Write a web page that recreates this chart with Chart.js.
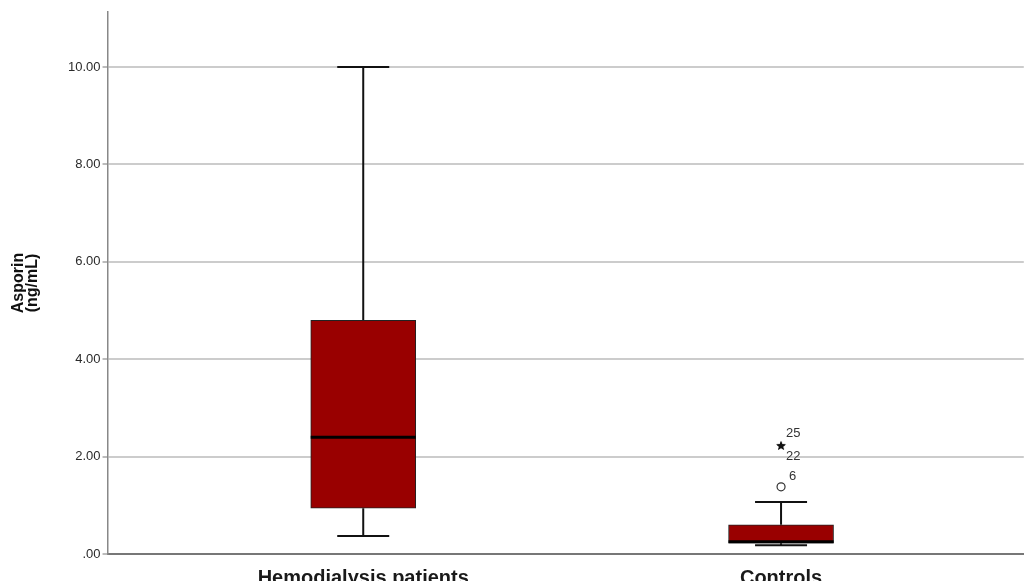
<!DOCTYPE html>
<html>
<head>
<meta charset="utf-8">
<script src="https://cdn.jsdelivr.net/npm/chart.js@4"></script>
<style>
  html, body { margin: 0; padding: 0; background: #fff; overflow: hidden; }
  #wrap { width: 1029px; height: 593px; }
</style>
</head>
<body>
<div id="wrap"><canvas id="chart"></canvas></div>
<script>
const groups = ["Hemodialysis patients", "Controls"];
const whiskerLow = [0.37, 0.18];
const q1 = [0.94, 0.22];
const median = [2.40, 0.25];
const q3 = [4.80, 0.60];
const whiskerHigh = [10.0, 1.07];

const outlierGroup = [1, 1, 1];
const outlierValue = [1.38, 2.22, 2.22];
const outlierCase = ["6", "25", "22"];
const outlierExtreme = [false, true, true];

const yTicks = [0, 2, 4, 6, 8, 10];

// small filled star used for extreme values
function starImage(r) {
  const c = document.createElement("canvas");
  c.width = c.height = r * 2 + 2;
  const g = c.getContext("2d");
  g.translate(r + 1, r + 1);
  g.beginPath();
  for (let i = 0; i < 10; i++) {
    const rad = i % 2 === 0 ? r : r * 0.42;
    const a = -Math.PI / 2 + i * Math.PI / 5;
    g.lineTo(Math.cos(a) * rad, Math.sin(a) * rad);
  }
  g.closePath();
  g.fillStyle = "#111";
  g.fill();
  return c;
}
const star = starImage(5);

const boxWidth = 105;
const capWidth = 52;

const whiskerPlugin = {
  id: "whiskers",
  beforeDatasetsDraw(chart) {
    const { ctx, scales: { x, y } } = chart;
    ctx.save();
    ctx.strokeStyle = "#111";
    ctx.lineWidth = 2;
    groups.forEach((g, i) => {
      const px = x.getPixelForValue(i);
      ctx.beginPath();
      ctx.moveTo(px, y.getPixelForValue(whiskerLow[i]));
      ctx.lineTo(px, y.getPixelForValue(q1[i]));
      ctx.moveTo(px, y.getPixelForValue(q3[i]));
      ctx.lineTo(px, y.getPixelForValue(whiskerHigh[i]));
      [whiskerLow[i], whiskerHigh[i]].forEach(v => {
        const py = y.getPixelForValue(v);
        ctx.moveTo(px - capWidth / 2, py);
        ctx.lineTo(px + capWidth / 2, py);
      });
      ctx.stroke();
    });
    ctx.restore();
  },
  afterDatasetsDraw(chart) {
    const { ctx, scales: { x, y } } = chart;
    ctx.save();
    ctx.strokeStyle = "#000";
    ctx.lineWidth = 3;
    groups.forEach((g, i) => {
      const px = x.getPixelForValue(i);
      const py = y.getPixelForValue(median[i]);
      ctx.beginPath();
      ctx.moveTo(px - boxWidth / 2, py);
      ctx.lineTo(px + boxWidth / 2, py);
      ctx.stroke();
    });
    // case numbers next to outliers
    ctx.fillStyle = "#333";
    ctx.font = "13px 'Liberation Sans', Arial, sans-serif";
    ctx.textBaseline = "middle";
    ctx.textAlign = "left";
    let starCount = 0;
    outlierValue.forEach((v, i) => {
      const px = x.getPixelForValue(outlierGroup[i]);
      const py = y.getPixelForValue(v);
      let dx = 8, dy = -10;
      if (outlierExtreme[i]) {
        dx = 5;
        dy = starCount === 0 ? -12 : 11;
        starCount++;
      }
      ctx.fillText(outlierCase[i], px + dx, py + dy);
    });
    ctx.restore();
  }
};

const data = {
  datasets: [
    {
      type: "bar",
      data: groups.map((g, i) => ({ x: i, y: [q1[i], q3[i]] })),
      backgroundColor: "#990000",
      borderColor: "#222",
      borderWidth: 1,
      borderSkipped: false,
      barThickness: boxWidth,
    },
    {
      type: "scatter",
      data: outlierValue.map((v, i) => ({ x: outlierGroup[i], y: v })),
      pointStyle: outlierExtreme.map(e => (e ? star : "circle")),
      pointRadius: 4,
      backgroundColor: "#fff",
      borderColor: "#333",
      borderWidth: 1.2,
    },
  ],
};

const config = {
  type: "bar",
  data: data,
  plugins: [whiskerPlugin],
  options: {
    responsive: true,
    maintainAspectRatio: false,
    animation: false,
    layout: { padding: { top: 12, right: 0, left: 12, bottom: -9 } },
    plugins: { legend: { display: false }, tooltip: { enabled: false } },
    scales: {
      x: {
        type: "linear",
        min: -0.612,
        max: 1.581,
        offset: false,
        afterBuildTicks(scale) {
          scale.ticks = groups.map((g, i) => ({ value: i }));
        },
        ticks: {
          callback: v => groups[v],
          color: "#1a1a1a",
          padding: 12,
          maxRotation: 0,
          font: { family: "'Liberation Sans', Arial, sans-serif", size: 20, weight: "bold" },
        },
        grid: { display: false, drawTicks: false },
        border: { color: "#777", width: 2 },
      },
      y: {
        min: 0,
        max: 11.13,
        afterBuildTicks(scale) {
          scale.ticks = yTicks.map(v => ({ value: v }));
        },
        ticks: {
          callback: v => (v === 0 ? ".00" : v.toFixed(2)),
          color: "#2a2a2a",
          padding: 2,
          font: { family: "'Liberation Sans', Arial, sans-serif", size: 13 },
        },
        grid: { color: "#cccccc", lineWidth: 2, tickLength: 5, tickColor: "#bbbbbb" },
        border: { color: "#888", width: 1.5 },
        title: {
          display: true,
          text: ["Asporin", "(ng/mL)"],
          color: "#111",
          padding: { top: 0, bottom: 26 },
          font: { family: "'Liberation Sans', Arial, sans-serif", size: 16, weight: "bold", lineHeight: 0.875 },
        },
      },
    },
  },
};

const myChart = new Chart(document.getElementById("chart"), config);
</script>
</body>
</html>
